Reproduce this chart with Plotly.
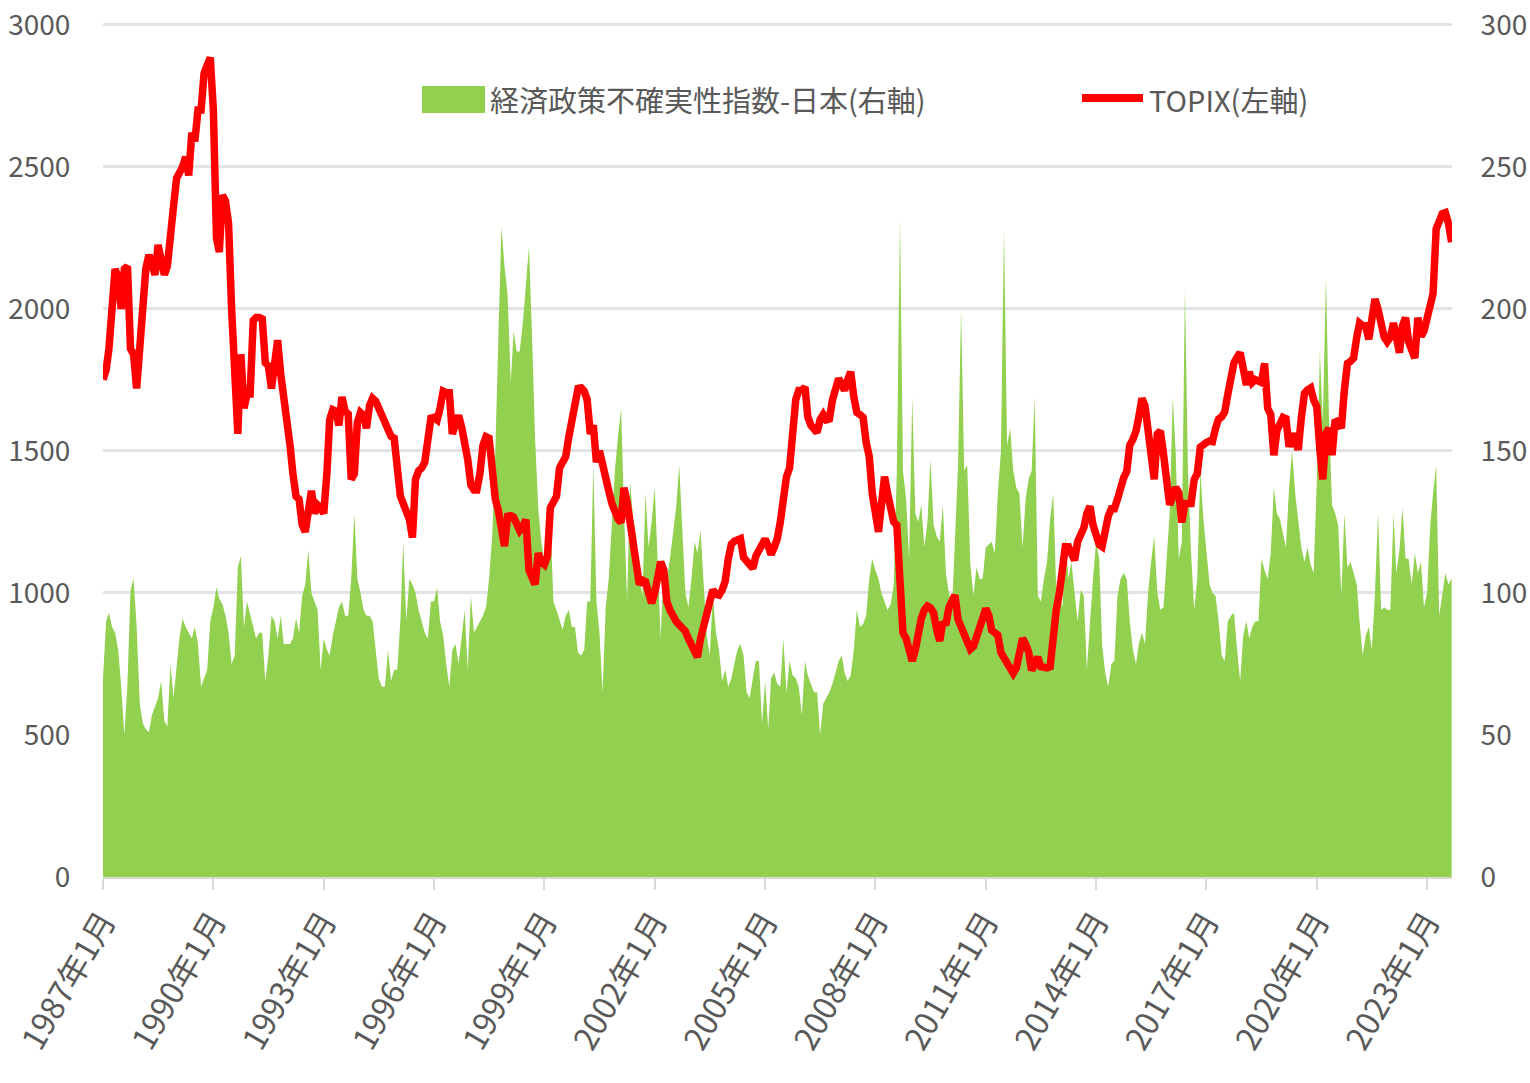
import pandas as pd
import plotly.graph_objects as go

# TOPIX monthly (left axis), 1987-01 .. 2023-09
topix = [
    1751, 1785, 1860, 2060, 2140, 2110, 2000, 2140, 2150, 1860, 1840, 1720,  # 1987
    1890, 2060, 2140, 2190, 2160, 2120, 2225, 2150, 2120, 2150, 2300, 2360,  # 1988
    2460, 2480, 2500, 2535, 2470, 2620, 2590, 2700, 2700, 2830, 2870, 2885,  # 1989
    2700, 2250, 2200, 2400, 2380, 2300, 2000, 1700, 1560, 1840, 1650, 1700,  # 1990
    1700, 1960, 1970, 1970, 1965, 1810, 1800, 1720, 1820, 1890, 1770, 1700,  # 1991
    1610, 1520, 1420, 1340, 1330, 1240, 1215, 1300, 1360, 1280, 1310, 1300,  # 1992
    1280, 1420, 1610, 1645, 1640, 1590, 1690, 1640, 1630, 1400, 1420, 1600,  # 1993
    1635, 1625, 1580, 1660, 1685, 1675, 1650, 1628, 1590, 1570, 1551, 1545,  # 1994
    1400, 1340, 1315, 1290, 1260, 1195, 1400, 1430, 1440, 1460, 1570, 1615,  # 1995
    1618, 1609, 1650, 1710, 1705, 1705, 1560, 1590, 1625, 1585, 1540, 1470,  # 1996
    1380, 1362, 1362, 1420, 1520, 1550, 1545, 1400, 1330, 1290, 1230, 1165,  # 1997
    1270, 1272, 1267, 1240, 1220, 1235, 1258, 1080, 1050, 1030, 1140, 1110,  # 1998
    1100, 1130, 1300, 1330, 1340, 1440, 1460, 1480, 1550, 1600, 1656, 1720,  # 1999
    1722, 1710, 1680, 1560, 1590, 1460, 1500, 1460, 1410, 1360, 1315, 1280,  # 2000
    1260, 1248, 1370, 1320, 1250, 1180, 1100, 1030, 1045, 1040, 1000, 964,   # 2001
    1000, 1068, 1110, 1080, 970, 940, 916, 900, 888, 875, 865, 840,          # 2002
    815, 790, 774, 840, 880, 940, 970, 1011, 995, 992, 1010, 1040,           # 2003
    1120, 1172, 1182, 1188, 1191, 1125, 1110, 1095, 1087, 1130, 1150, 1170,  # 2004
    1190, 1165, 1135, 1160, 1190, 1250, 1330, 1409, 1440, 1600, 1680, 1713,  # 2005
    1713, 1725, 1620, 1590, 1580, 1565, 1610, 1628, 1609, 1612, 1680, 1730,  # 2006
    1755, 1735, 1713, 1750, 1779, 1690, 1635, 1628, 1618, 1530, 1480, 1350,  # 2007
    1280, 1215, 1310, 1409, 1350, 1290, 1250, 1239, 1011, 859, 840, 810,     # 2008
    760, 800, 860, 910, 940, 954, 948, 930, 870, 831, 897, 888,              # 2009
    950, 983, 992, 907, 880, 860, 820, 802, 812, 840, 878, 910,              # 2010
    945, 920, 869, 859, 852, 790, 774, 750, 735, 717, 736, 790,              # 2011
    840, 820, 793, 727, 760, 774, 740, 736, 736, 740, 859, 940,              # 2012
    1000, 1100, 1163, 1163, 1130, 1115, 1180, 1210, 1229, 1280, 1305, 1240,  # 2013
    1200, 1170, 1163, 1220, 1270, 1296, 1296, 1330, 1380, 1405, 1428, 1520,  # 2014
    1540, 1570, 1620, 1685, 1660, 1560, 1480, 1400, 1560, 1570, 1490, 1380,  # 2015
    1310, 1340, 1372, 1353, 1248, 1315, 1315, 1315, 1400, 1419, 1514, 1525,  # 2016
    1530, 1535, 1533, 1580, 1612, 1620, 1637, 1700, 1770, 1810, 1830, 1846,  # 2017
    1790, 1732, 1779, 1741, 1751, 1745, 1741, 1808, 1650, 1628, 1485, 1571,  # 2018
    1600, 1618, 1614, 1514, 1561, 1530, 1504, 1618, 1703, 1715, 1722, 1680,  # 2019
    1656, 1504, 1400, 1561, 1580, 1485, 1609, 1600, 1580, 1713, 1808, 1815,  # 2020
    1827, 1900, 1950, 1941, 1941, 1893, 1990, 2035, 1998, 1941, 1900, 1884,  # 2021
    1900, 1950, 1912, 1846, 1940, 1969, 1884, 1850, 1827, 1969, 1903, 1922,  # 2022
    1979, 2010, 2054, 2282, 2320, 2335, 2339, 2301, 2235,                    # 2023
]

# Economic policy uncertainty index - Japan (right axis)
epu = [
    70, 90, 93, 88, 86, 80, 67, 50, 68, 101, 105, 88,          # 1987
    61, 54, 52, 51, 57, 60, 63, 69, 55, 53, 75, 63,            # 1988
    75, 85, 91, 88, 86, 84, 88, 82, 67, 70, 73, 90,            # 1989
    95, 102, 98, 96, 92, 86, 75, 78, 109, 113, 88, 97,         # 1990
    92, 88, 84, 86, 86, 69, 78, 92, 90, 84, 92, 82,            # 1991
    82, 82, 84, 91, 86, 99, 103, 115, 100, 97, 94, 73,         # 1992
    84, 80, 78, 85, 90, 95, 97, 92, 92, 105, 128, 105,         # 1993
    100, 94, 92, 92, 90, 80, 70, 67, 67, 80, 69, 73,           # 1994
    73, 90, 118, 90, 105, 103, 100, 94, 90, 86, 84, 97,        # 1995
    97, 102, 90, 85, 75, 67, 80, 82, 75, 85, 94, 73,           # 1996
    99, 86, 88, 90, 92, 95, 105, 120, 150, 190, 229, 215,      # 1997
    205, 174, 192, 185, 185, 195, 210, 222, 190, 154, 130, 118,  # 1998
    111, 112, 126, 97, 94, 90, 87, 92, 94, 88, 88, 79,         # 1999
    78, 80, 97, 97, 145, 97, 86, 65, 95, 105, 125, 143,        # 2000
    155, 165, 130, 97, 139, 126, 120, 105, 99, 135, 116, 125,  # 2001
    137, 112, 84, 112, 105, 112, 120, 130, 145, 120, 100, 95,  # 2002
    105, 118, 114, 122, 105, 85, 78, 99, 86, 80, 69, 73,       # 2003
    67, 70, 75, 80, 82, 78, 65, 63, 70, 76, 76, 54,            # 2004
    69, 52, 70, 72, 68, 67, 84, 65, 76, 71, 70, 67,            # 2005
    57, 76, 71, 68, 65, 65, 50, 61, 63, 65, 68, 72,            # 2006
    76, 78, 72, 69, 71, 80, 94, 88, 89, 92, 105, 112,          # 2007
    108, 105, 100, 97, 94, 96, 103, 143, 232, 143, 133, 112,   # 2008
    169, 128, 125, 131, 116, 125, 147, 124, 120, 118, 131, 107,  # 2009
    100, 95, 120, 145, 200, 143, 145, 110, 99, 109, 105, 105,  # 2010
    116, 117, 118, 114, 135, 150, 228, 152, 158, 143, 137, 135,  # 2011
    116, 133, 140, 143, 169, 99, 97, 105, 111, 126, 135, 101,  # 2012
    100, 95, 120, 105, 111, 100, 90, 101, 99, 73, 90, 105,     # 2013
    118, 112, 82, 72, 67, 75, 76, 99, 105, 107, 105, 90,       # 2014
    80, 75, 82, 86, 82, 100, 111, 120, 100, 94, 95, 110,       # 2015
    128, 169, 150, 112, 118, 207, 143, 114, 94, 105, 143, 126,  # 2016
    115, 103, 100, 99, 90, 78, 76, 90, 92, 93, 80, 69,         # 2017
    85, 90, 84, 88, 90, 90, 112, 108, 105, 114, 137, 128,      # 2018
    126, 120, 116, 137, 150, 135, 125, 116, 111, 116, 110, 107,  # 2019
    139, 185, 160, 211, 162, 131, 128, 124, 99, 128, 109, 111,  # 2020
    107, 103, 90, 78, 85, 88, 80, 100, 128, 94, 95, 94,        # 2021
    94, 128, 107, 115, 130, 112, 112, 103, 114, 107, 111, 95,  # 2022
    100, 124, 135, 145, 92, 100, 107, 103, 105,                # 2023
]

months = pd.date_range("1987-01-01", periods=len(topix), freq="MS")
tick_years = list(range(1987, 2024, 3))
tick_vals = [f"{y}-01-01" for y in tick_years]
tick_text = [f"{y}年1月" for y in tick_years]
left_ticks = [0, 500, 1000, 1500, 2000, 2500, 3000]
right_ticks = [0, 50, 100, 150, 200, 250, 300]

epu_name = "経済政策不確実性指数-日本(右軸)"
topix_name = "TOPIX(左軸)"

GREEN = "#92D050"
RED = "#FF0000"
GRAY = "#595959"
FONT = "Noto Sans CJK JP, sans-serif"

fig = go.Figure()
fig.add_trace(go.Scatter(
    x=months, y=epu, name=epu_name, mode="lines",
    line=dict(width=0, color=GREEN), fill="tozeroy", fillcolor=GREEN,
    yaxis="y", showlegend=False,
))
fig.add_trace(go.Scatter(
    x=months, y=topix, name=topix_name, mode="lines",
    line=dict(width=7.5, color=RED), yaxis="y2", showlegend=False,
))

W, H = 1530, 1083
L, R, T, B = 103, 78, 22, 206
pw, ph = W - L - R, H - T - B


def px(x):
    return (x - L) / pw


def py(y):
    return (H - B - y) / ph


fig.update_layout(
    width=W, height=H,
    margin=dict(l=L, r=R, t=T, b=B, autoexpand=False),
    paper_bgcolor="white", plot_bgcolor="white",
    font=dict(family=FONT, color=GRAY, size=28),
    xaxis=dict(
        type="date", automargin=False,
        range=["1987-01-01", "2023-09-05"],
        tickvals=tick_vals, ticktext=tick_text,
        tickangle=-60, tickfont=dict(size=32, color=GRAY, family=FONT),
        ticks="outside", ticklen=11, tickwidth=1.5, tickcolor="#D9D9D9",
        showline=True, linecolor="#D9D9D9", linewidth=1.5,
        showgrid=False, zeroline=False,
    ),
    yaxis=dict(
        side="right", range=[0, 301], automargin=False,
        tickvals=right_ticks,
        showgrid=True, gridcolor="#E3E3E3", gridwidth=2.5,
        zeroline=False, showline=False,
        ticks="outside", ticklen=22, tickcolor="rgba(0,0,0,0)",
        tickfont=dict(size=28, color=GRAY, family=FONT),
    ),
    yaxis2=dict(
        side="left", overlaying="y", range=[0, 3010], automargin=False,
        tickvals=left_ticks,
        showgrid=False, zeroline=False, showline=False,
        ticks="outside", ticklen=26, tickcolor="rgba(0,0,0,0)",
        tickfont=dict(size=28, color=GRAY, family=FONT),
    ),
    shapes=[
        dict(type="rect", xref="paper", yref="paper",
             x0=px(422), x1=px(485), y0=py(113), y1=py(86),
             fillcolor=GREEN, line=dict(width=0)),
        dict(type="line", xref="paper", yref="paper",
             x0=px(1082), x1=px(1143), y0=py(98), y1=py(98),
             line=dict(color=RED, width=8)),
    ],
    annotations=[
        dict(text=epu_name, xref="paper", yref="paper",
             x=px(488), y=py(99), xanchor="left", yanchor="middle",
             showarrow=False, font=dict(size=29, color=GRAY, family=FONT)),
        dict(text=topix_name, xref="paper", yref="paper",
             x=px(1147), y=py(99), xanchor="left", yanchor="middle",
             showarrow=False, font=dict(size=29, color=GRAY, family=FONT)),
    ],
)

fig.write_html("out.html", config={"displayModeBar": False},
               post_script="document.body.style.margin='0px';")
